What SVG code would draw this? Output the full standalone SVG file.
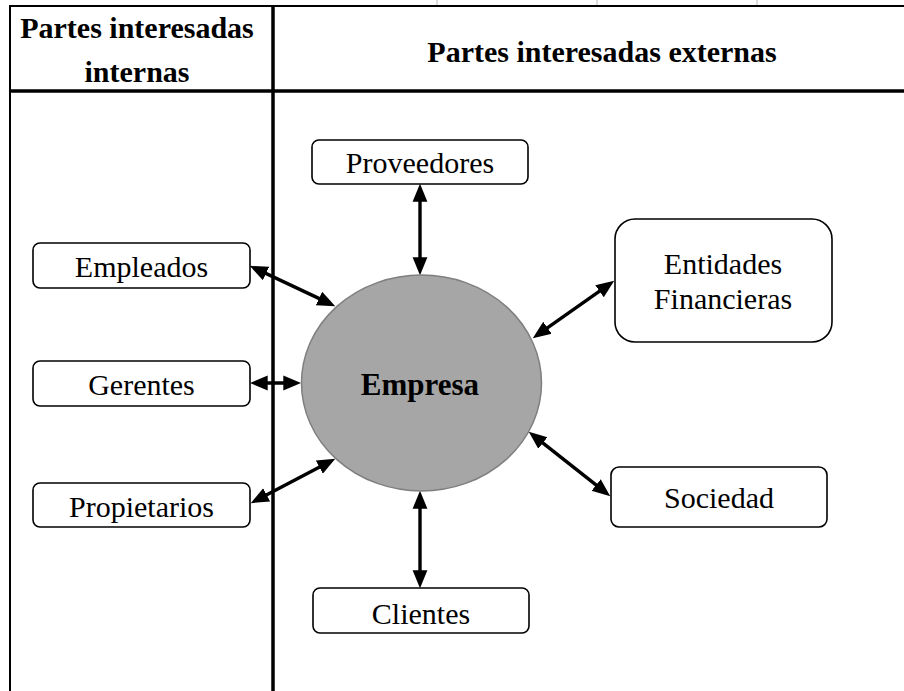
<svg xmlns="http://www.w3.org/2000/svg" width="904" height="691" viewBox="0 0 904 691">
<style>
.box{fill:#fff;stroke:#000;stroke-width:1.6}
.t{font-family:"Liberation Serif","Times New Roman",serif;font-size:30px;fill:#000;text-anchor:middle}
.b{font-weight:bold}
.conn{stroke:#000;stroke-width:3.4;fill:none;marker-start:url(#ah);marker-end:url(#ah)}
.grid{stroke:#000;fill:none}
</style>
<defs>
<marker id="ah" markerUnits="userSpaceOnUse" markerWidth="18" markerHeight="16" viewBox="0 0 17 14" refX="12" refY="7" orient="auto-start-reverse">
<path d="M0,0 L17,7 L0,14 z" fill="#000"/>
</marker>
</defs>
<rect width="904" height="691" fill="#fff"/>
<g id="table">
<line x1="437" y1="0" x2="437" y2="5" stroke="#bbb" stroke-width="1"/>
<line x1="597" y1="0" x2="597" y2="5" stroke="#bbb" stroke-width="1"/>
<line x1="757" y1="0" x2="757" y2="5" stroke="#bbb" stroke-width="1"/>
<line class="grid" x1="9" y1="6" x2="904" y2="6" stroke-width="2"/>
<line class="grid" x1="10" y1="5" x2="10" y2="691" stroke-width="2"/>
<line class="grid" x1="9" y1="91" x2="904" y2="91" stroke-width="3.5"/>
<line class="grid" x1="273" y1="5" x2="273" y2="691" stroke-width="3.5"/>
<text class="t b" x="137" y="38">Partes interesadas</text>
<text class="t b" x="137" y="82">internas</text>
<text class="t b" x="602" y="62">Partes interesadas externas</text>
</g>
<g id="connectors">
<line class="conn" x1="420" y1="189" x2="420" y2="270"/>
<line class="conn" x1="420" y1="496" x2="420" y2="583"/>
<line class="conn" x1="254.5" y1="268.1" x2="330.5" y2="303.9"/>
<line class="conn" x1="255" y1="383" x2="296" y2="383"/>
<line class="conn" x1="255.4" y1="500.7" x2="330.6" y2="461.3"/>
<line class="conn" x1="537.1" y1="335.1" x2="609.9" y2="283.9"/>
<line class="conn" x1="532.9" y1="435.1" x2="606.1" y2="492.9"/>
</g>
<g id="empresa">
<ellipse cx="421.5" cy="383" rx="120" ry="108" fill="#a6a6a6" stroke="#7f7f7f" stroke-width="1.5"/>
<text class="t b" x="420" y="395" style="font-size:31px">Empresa</text>
</g>
<g id="proveedores">
<rect class="box" x="312" y="140" width="216" height="44" rx="7"/>
<text class="t" x="420" y="173">Proveedores</text>
</g>
<g id="clientes">
<rect class="box" x="313" y="588" width="216" height="45" rx="7"/>
<text class="t" x="421" y="624">Clientes</text>
</g>
<g id="empleados">
<rect class="box" x="33" y="243" width="217" height="45" rx="7"/>
<text class="t" x="141.5" y="277">Empleados</text>
</g>
<g id="gerentes">
<rect class="box" x="33" y="361" width="217" height="45" rx="7"/>
<text class="t" x="141.5" y="395">Gerentes</text>
</g>
<g id="propietarios">
<rect class="box" x="33" y="483" width="217" height="44" rx="7"/>
<text class="t" x="141.5" y="517">Propietarios</text>
</g>
<g id="entidades">
<rect class="box" x="615" y="219" width="217" height="123" rx="20"/>
<text class="t" x="723" y="274">Entidades</text>
<text class="t" x="723" y="309">Financieras</text>
</g>
<g id="sociedad">
<rect class="box" x="611" y="467" width="216" height="60" rx="8"/>
<text class="t" x="719" y="508">Sociedad</text>
</g>
</svg>
